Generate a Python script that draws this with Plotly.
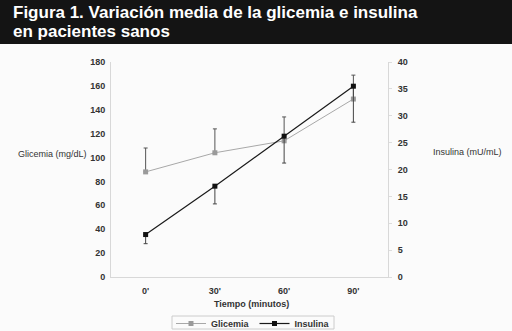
import plotly.graph_objects as go

categories = ["0'", "30'", "60'", "90'"]
glicemia = [88, 104, 114, 149]
glicemia_err_plus = [20, 20, 20, 20]
insulina = [7.9, 16.9, 26.2, 35.5]
insulina_err_minus = [1.7, 3.3, 5.0, 6.7]
left_ticks = [0, 20, 40, 60, 80, 100, 120, 140, 160, 180]
right_ticks = [0, 5, 10, 15, 20, 25, 30, 35, 40]

W, H = 512, 331
L, R, T, B = 111, 124, 62, 54
PW, PH = W - L - R, H - T - B

def px(x):
    return (x - L) / PW

def py(y):
    return (H - B - y) / PH

FONT = "Liberation Sans, Arial, sans-serif"
TXT = "#333333"

fig = go.Figure()
fig.add_trace(go.Scatter(
    x=categories, y=glicemia, name="Glicemia", mode="lines+markers",
    line=dict(color="#a8a8a8", width=1),
    marker=dict(symbol="square", size=5, color="#9a9a9a"),
    error_y=dict(type="data", symmetric=False, array=glicemia_err_plus,
                 arrayminus=[0, 0, 0, 0], color="#555555", thickness=1, width=2),
    yaxis="y",
))
fig.add_trace(go.Scatter(
    x=categories, y=insulina, name="Insulina", mode="lines+markers",
    line=dict(color="#1a1a1a", width=1.2),
    marker=dict(symbol="square", size=5, color="#111111"),
    error_y=dict(type="data", symmetric=False, array=[0, 0, 0, 0],
                 arrayminus=insulina_err_minus, color="#444444", thickness=1, width=2),
    yaxis="y2",
))

fig.update_layout(
    width=W, height=H,
    margin=dict(l=L, r=R, t=T, b=B, autoexpand=False),
    paper_bgcolor="#fbfbfb", plot_bgcolor="#fbfbfb",
    font=dict(family=FONT, size=9, color=TXT),
    xaxis=dict(type="category", range=[-0.5, 3.5], showgrid=False, zeroline=False,
               showline=True, linecolor="#d8d8d8", linewidth=1, ticks="",
               automargin=False, ticklabelstandoff=5,
               tickfont=dict(size=9, color=TXT, weight="bold")),
    yaxis=dict(range=[0, 180], tickvals=left_ticks, showgrid=False, zeroline=False,
               showline=True, linecolor="#d8d8d8", linewidth=1, ticks="",
               automargin=False, ticklabelstandoff=3,
               tickfont=dict(size=9, color=TXT, weight="bold")),
    yaxis2=dict(range=[0, 40], tickvals=right_ticks, overlaying="y", side="right",
                showgrid=False, zeroline=False, showline=True, linecolor="#d8d8d8",
                linewidth=1, ticks="outside", ticklen=3, tickcolor="#dddddd",
                automargin=False, ticklabelstandoff=4,
                tickfont=dict(size=9, color=TXT, weight="bold")),
    showlegend=True,
    legend=dict(orientation="h", xref="container", yref="container",
                x=253 / W, y=1 - 309 / H, xanchor="center", yanchor="top",
                borderwidth=0, bgcolor="rgba(0,0,0,0)",
                font=dict(size=9, color=TXT, weight="bold"),
                itemwidth=30, tracegroupgap=0),
    shapes=[
        dict(type="rect", xref="paper", yref="paper",
             x0=px(0), x1=px(W), y0=py(44), y1=py(0),
             fillcolor="#141414", line=dict(width=0), layer="below"),
        dict(type="rect", xref="paper", yref="paper",
             x0=px(172), x1=px(334), y0=py(329), y1=py(316),
             fillcolor="rgba(0,0,0,0)", line=dict(width=1, color="#cccccc"),
             layer="below"),
    ],
)

annotations = [
    dict(text="Figura 1. Variación media de la glicemia e insulina",
         x=px(11), y=py(13), xanchor="left", yanchor="middle",
         font=dict(size=17, color="white", weight="bold", family=FONT)),
    dict(text="en pacientes sanos",
         x=px(11), y=py(31), xanchor="left", yanchor="middle",
         font=dict(size=17, color="white", weight="bold", family=FONT)),
    dict(text="Glicemia (mg/dL)", x=px(89), y=py(154), xanchor="right", yanchor="middle",
         font=dict(size=9, color=TXT)),
    dict(text="Insulina (mU/mL)", x=px(431), y=py(152), xanchor="left", yanchor="middle",
         font=dict(size=9, color=TXT)),
    dict(text="Tiempo (minutos)", x=px(251), y=py(304), xanchor="center", yanchor="middle",
         font=dict(size=9, color=TXT, weight="bold")),
]
for a in annotations:
    a.update(xref="paper", yref="paper", showarrow=False)
fig.update_layout(annotations=annotations)

fig.write_html("out.html", config={"displayModeBar": False},
               post_script="document.body.style.margin='0';document.body.style.padding='0';")
